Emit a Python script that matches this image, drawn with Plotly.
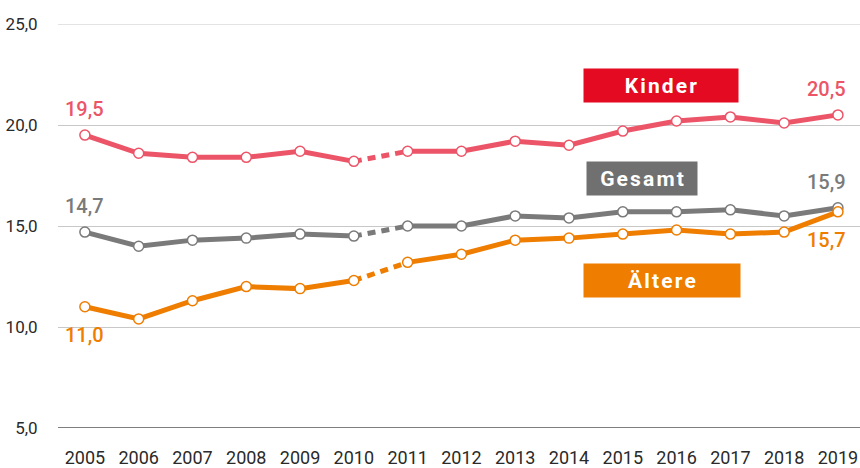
import plotly.graph_objects as go

years = list(range(2005, 2020))
kinder = [19.5, 18.6, 18.4, 18.4, 18.7, 18.2, 18.7, 18.7, 19.2, 19.0, 19.7, 20.2, 20.4, 20.1, 20.5]
gesamt = [14.7, 14.0, 14.3, 14.4, 14.6, 14.5, 15.0, 15.0, 15.5, 15.4, 15.7, 15.7, 15.8, 15.5, 15.9]
aeltere = [11.0, 10.4, 11.3, 12.0, 11.9, 12.3, 13.2, 13.6, 14.3, 14.4, 14.6, 14.8, 14.6, 14.7, 15.7]
y_ticks = [5, 10, 15, 20, 25]
y_tick_labels = ["5,0", "10,0", "15,0", "20,0", "25,0"]
break_year = 2010  # dashed segment between 2010 and 2011

FONT = "Roboto, sans-serif"

series = [
    ("Kinder", kinder, "#EC5468", "#E30A22"),
    ("Gesamt", gesamt, "#7A7A7A", "#707070"),
    ("Ältere", aeltere, "#EE7D00", "#EE7D00"),
]

fig = go.Figure()
bi = years.index(break_year)
for name, vals, col, _ in series:
    fig.add_trace(go.Scatter(x=years[bi:bi + 2], y=vals[bi:bi + 2], mode="lines",
                             line=dict(color=col, width=5, dash="8px,6px"),
                             showlegend=False, hoverinfo="skip"))
    ys = vals[:bi + 1] + [None] + vals[bi + 1:]
    xs = years[:bi + 1] + [None] + years[bi + 1:]
    fig.add_trace(go.Scatter(x=xs, y=ys, mode="lines", connectgaps=False,
                             line=dict(color=col, width=5),
                             showlegend=False, name=name))
    fig.add_trace(go.Scatter(x=years, y=vals, mode="markers",
                             marker=dict(size=10, color="white", line=dict(color=col, width=1.5)),
                             showlegend=False, name=name))

annotations = []
for name, vals, col, _ in series:
    above = name != "Ältere"
    for i in (0, len(years) - 1):
        last = i == len(years) - 1
        annotations.append(dict(
            x=years[i], y=vals[i], xref="x", yref="y",
            text=f"{vals[i]:.1f}".replace(".", ","), showarrow=False,
            xanchor="right" if last else "center",
            xshift=10 if last else 0,
            yshift=26 if above else -28,
            font=dict(family=FONT, size=20, color=col, weight=500)))

boxes = [
    ("Kinder", 2015.71, 21.96, 150, "#E30A22"),
    ("Gesamt", 2015.35, 17.35, 106, "#707070"),
    ("Ältere", 2015.73, 12.30, 152, "#EE7D00"),
]
for label, bx, by, w, bcol in boxes:
    spaced = "\u200a".join(label)
    annotations.append(dict(
        x=bx, y=by, xref="x", yref="y", text=f"<b>{spaced}</b>", showarrow=False,
        bgcolor=bcol, width=w, height=29, borderpad=2, align="center",
        font=dict(family=FONT, size=21, color="white")))

fig.update_layout(
    width=860, height=468,
    margin=dict(l=58, r=0, t=24, b=36),
    paper_bgcolor="white", plot_bgcolor="white",
    annotations=annotations,
    font=dict(family=FONT, size=18, color="#2a2a2a"),
)
fig.update_xaxes(range=[2004.5, 2019.41], tickmode="array", tickvals=years,
                 ticktext=[str(y) for y in years], showgrid=False, zeroline=False,
                 ticks="outside", ticklen=13, tickcolor="rgba(0,0,0,0)",
                 tickfont=dict(family=FONT, size=18, color="#2a2a2a"))
fig.update_yaxes(range=[5, 25], tickmode="array", tickvals=y_ticks, ticktext=y_tick_labels,
                 showgrid=True, gridcolor="#C8C8C8", gridwidth=1, zeroline=False,
                 showline=False, ticks="outside", ticklen=16, tickcolor="rgba(0,0,0,0)",
                 tickfont=dict(family=FONT, size=17, color="#2a2a2a"))
fig.add_hline(y=25, line=dict(color="#C8C8C8", width=1))
fig.add_hline(y=5, line=dict(color="#555555", width=1.5))

fig.write_html("out.html", config={"displayModeBar": False},
               post_script="document.body.style.margin='0';document.body.style.overflow='hidden';")
